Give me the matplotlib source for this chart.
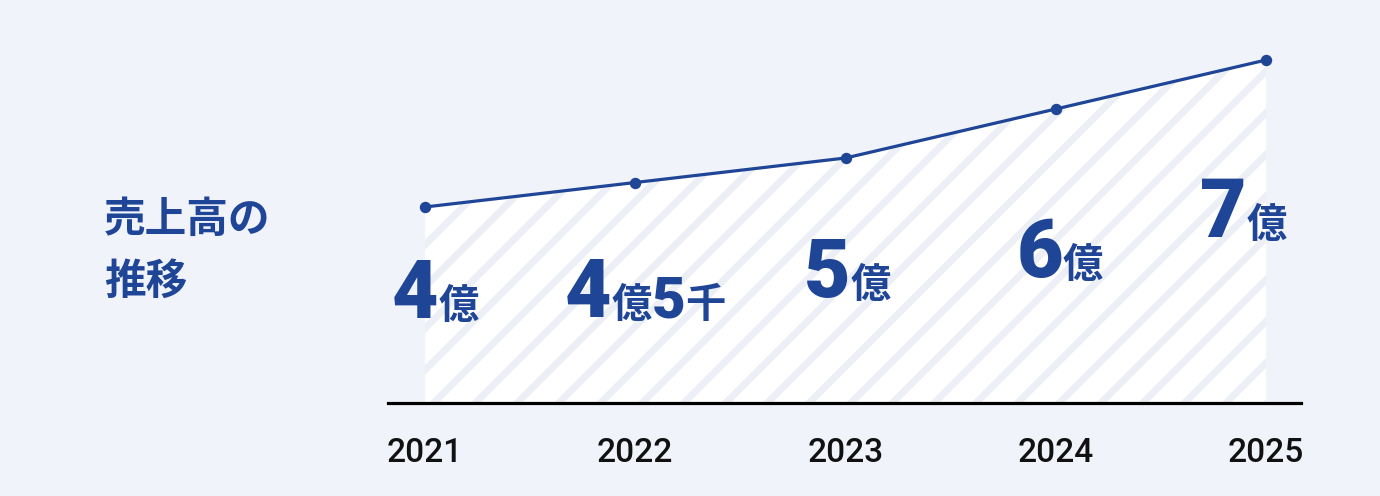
import matplotlib
matplotlib.use('Agg')
import matplotlib.pyplot as plt
from matplotlib.transforms import ScaledTranslation
from matplotlib.lines import Line2D
import numpy as np

# ---- data ----
years = ['2021', '2022', '2023', '2024', '2025']
sales_oku = [4.0, 4.5, 5.0, 6.0, 7.0]   # 億円
value_labels = [
    [('4', 'big'), ('億', 'unit')],
    [('4', 'big'), ('億', 'unit'), ('5', 'mid'), ('千', 'unit')],
    [('5', 'big'), ('億', 'unit')],
    [('6', 'big'), ('億', 'unit')],
    [('7', 'big'), ('億', 'unit')],
]
title_lines = ['売上高の', '推移']

# ---- layout / style ----
label_base = [1.73, 1.75, 2.16, 2.57, 3.39]
label_dx_px = [10, 10, 2, 4, -23]
piece_gap_px = 0

BLUE = '#1f4597'
BG = '#f1f3fb'
STRIPE = '#edeff7'

styles = {
    'big': dict(family=['Roboto', 'DejaVu Sans'], size=58, weight='black'),
    'mid': dict(family=['Roboto', 'DejaVu Sans'], size=42, weight='black'),
    'unit': dict(family=['Noto Sans CJK JP', 'DejaVu Sans'], size=29, weight='bold'),
}

W, H = 13.8, 4.96
fig = plt.figure(figsize=(W, H), dpi=100, facecolor=BG)
ax = fig.add_axes([388 / 1380, 93 / 496, 913 / 1380, 8.2 * 49 / 496])
ax.set_facecolor('none')

x = np.arange(len(years))
poly = ax.fill_between(x, sales_oku, 0, facecolor='white', lw=0, zorder=1)

# diagonal stripes clipped to the filled area
spacing = 0.417
c0 = 2.99
clip_path = poly.get_paths()[0]
for k in range(-20, 40):
    c = c0 + k * spacing
    ln = Line2D([c, c + H], [0, H], transform=fig.dpi_scale_trans,
                color=STRIPE, lw=5, solid_capstyle='butt', zorder=2)
    ax.add_artist(ln)
    ln.set_clip_path(clip_path, ax.transData)

ax.plot(x, sales_oku, color=BLUE, lw=2.3, marker='o', ms=7.2, zorder=5, clip_on=False)

ax.set_xlim(-0.176, 4.166)
ax.set_ylim(0, 8.2)
for s in ['top', 'left', 'right']:
    ax.spines[s].set_visible(False)
ax.spines['bottom'].set_color('#000000')
ax.spines['bottom'].set_linewidth(2.3)
ax.spines['bottom'].set_zorder(7)
ax.set_xticks([])
ax.set_yticks([])

for i, yr in enumerate(years):
    ax.annotate(yr, xy=(i, 0), xycoords='data', xytext=(0, -59 * 0.72),
                textcoords='offset points', ha='center', va='baseline',
                fontsize=24, fontfamily=['Roboto', 'DejaVu Sans'], fontweight='medium',
                color='#111111', annotation_clip=False)

fig.text(104 / 1380, 1 - 232 / 496, title_lines[0], color=BLUE, fontsize=30,
         fontweight='bold', family=['Noto Sans CJK JP', 'DejaVu Sans'], va='baseline', ha='left')
fig.text(104 / 1380, 1 - 294 / 496, title_lines[1], color=BLUE, fontsize=30,
         fontweight='bold', family=['Noto Sans CJK JP', 'DejaVu Sans'], va='baseline', ha='left')

fig.canvas.draw()
renderer = fig.canvas.get_renderer()
for i, parts in enumerate(value_labels):
    texts = []
    for s, st in parts:
        t = ax.text(i, label_base[i], s, color=BLUE, ha='left', va='baseline',
                    zorder=6, **styles[st])
        texts.append(t)
    widths = [t.get_window_extent(renderer).width for t in texts]
    total = sum(widths) + piece_gap_px * (len(widths) - 1)
    x0 = -total / 2 + label_dx_px[i]
    for t, w in zip(texts, widths):
        t.set_transform(ax.transData + ScaledTranslation(x0 / fig.dpi, 0, fig.dpi_scale_trans))
        x0 += w + piece_gap_px

fig.savefig('out.png', dpi=100, facecolor=BG)
